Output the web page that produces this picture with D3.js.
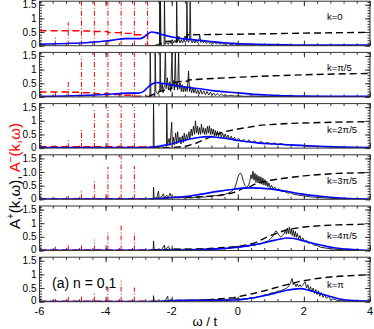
<!DOCTYPE html>
<html><head><meta charset="utf-8">
<script src="https://cdn.jsdelivr.net/npm/d3@7"></script>
<style>
body{margin:0;background:#fff}
svg{display:block;font-family:"Liberation Sans",Arial,sans-serif}
</style></head><body>
<svg id="chart" width="374" height="329"></svg>
<script>
// momentum labels, one per panel (top to bottom)
const kLabels = ["k=0", "k=\u03c0/5", "k=2\u03c0/5", "k=3\u03c0/5", "k=4\u03c0/5", "k=\u03c0"];
const yTickText = [
  ["0", "0.5", "1", "1.5"], ["0", "0.5", "1", "1.5"], ["0", "0.5", "1", "1.5"],
  ["0", "0.5", "1.0", "1.5"], ["0", "0.5", "1", "1.5"], ["0", "0.5", "1", "1.5"]
];
const yTickVals = [0, 0.5, 1, 1.5];
const xTickVals = [-6, -4, -2, 0, 2, 4];

// A^-(k,w): delta peaks (red)
const spikeOmega = [-5.52, -5.13, -4.73, -4.34, -3.93, -3.53, -3.13, -2.73];
const spikeHeight = [
  [0.32, 0.86, 1.7, 1.7, 1.7, 1.7, 1.7, 1.7],
  [0.22, 0.63, 1.48, 1.7, 1.7, 1.7, 1.7, 0],
  [0.1, 0.33, 0.68, 1.39, 1.5, 1.57, 1.5, 0],
  [0.05, 0.13, 0.37, 0.66, 1.19, 1.7, 1.22, 0],
  [0.14, 0.2, 0.23, 0.4, 0.7, 0.92, 0.65, 0],
  [0.1, 0.19, 0.21, 0.35, 0.56, 0.77, 0.52, 0]
];
// integrated A^- weight (red dashed)
const redWeight = [
  [[-6, 0.55], [-5.52, 0.55], [-5.13, 0.545], [-4.73, 0.54], [-4.34, 0.52], [-3.93, 0.48], [-3.53, 0.45], [-3.13, 0.4], [-2.73, 0], [-2.6, 0]],
  [[-6, 0.18], [-5.52, 0.18], [-5.13, 0.17], [-4.73, 0.15], [-4.34, 0.12], [-3.93, 0.09], [-3.53, 0.06], [-3.13, 0.03], [-2.73, 0], [-2.6, 0]],
  [[-6, 0.05], [-4.34, 0.05], [-3.53, 0.04], [-2.55, 0], [-2.5, 0]],
  [[-6, 0.02], [-2.55, 0.02], [-2.5, 0]],
  [[-6, 0.02], [-2.55, 0.02], [-2.5, 0]],
  [[-6, 0.02], [-2.55, 0.02], [-2.5, 0]]
];

// A^+(k,w) (black solid)
const aPlus = [
  [[-2.6,0],[-2.45,0.02],[-2.37,0],[-2.36,1.7],[-2.35,0.05],[-2.34,1.7],[-2.32,0],[-2.23,0],[-2.22,1.7],[-2.2,0.05],[-2.15,0.12],[-2.1,0.05],[-2.06,0.18],[-2.02,0.08],[-1.98,0.22],[-1.94,0.1],[-1.9,0.2],[-1.86,0.1],[-1.85,1.7],[-1.83,0.12],[-1.79,0.25],[-1.75,0.1],[-1.71,0.22],[-1.67,0.1],[-1.63,0.24],[-1.59,0.12],[-1.55,0.18],[-1.54,1.7],[-1.52,0.2],[-1.49,0.12],[-1.46,0.24],[-1.44,1.7],[-1.42,0.2],[-1.38,0.1],[-1.34,0.22],[-1.3,0.1],[-1.26,0.2],[-1.22,0.1],[-1.18,0.2],[-1.15,0.38],[-1.12,0.12],[-1.08,0.2],[-1.04,0.1],[-1.0,0.18],[-0.95,0.08],[-0.9,0.16],[-0.85,0.08],[-0.8,0.15],[-0.75,0.07],[-0.7,0.13],[-0.65,0.06],[-0.6,0.12],[-0.55,0.05],[-0.5,0.1],[-0.45,0.05],[-0.4,0.09],[-0.35,0.04],[-0.3,0.08],[-0.2,0.04],[-0.1,0.07],[0,0.03],[0.1,0.06],[0.2,0.03],[0.3,0.05],[0.4,0.02],[0.6,0.04],[0.8,0.02],[1.0,0.02],[1.5,0.01],[2,0.005],[4,0]],
  [[-2.7,0],[-2.66,0],[-2.65,1.7],[-2.63,0.05],[-2.55,0.1],[-2.51,0],[-2.5,1.7],[-2.48,0.2],[-2.42,0.1],[-2.36,0.3],[-2.35,1.7],[-2.33,0.2],[-2.29,0.5],[-2.26,0.15],[-2.22,0.45],[-2.19,1.7],[-2.17,0.3],[-2.13,0.7],[-2.1,0.25],[-2.06,0.55],[-2.03,0.2],[-1.99,1.7],[-1.97,0.4],[-1.94,0.6],[-1.92,0.25],[-1.89,1.7],[-1.87,0.35],[-1.84,0.55],[-1.82,0.25],[-1.79,1.7],[-1.77,0.3],[-1.74,0.5],[-1.71,0.2],[-1.68,0.45],[-1.65,0.18],[-1.62,0.4],[-1.59,0.2],[-1.56,0.38],[-1.53,0.2],[-1.49,0.95],[-1.46,0.2],[-1.43,0.38],[-1.4,0.15],[-1.36,0.32],[-1.33,0.14],[-1.29,0.3],[-1.25,0.12],[-1.21,0.26],[-1.17,0.1],[-1.12,0.25],[-1.08,0.1],[-1.03,0.22],[-0.98,0.08],[-0.93,0.2],[-0.88,0.07],[-0.83,0.17],[-0.78,0.06],[-0.73,0.14],[-0.68,0.05],[-0.62,0.12],[-0.56,0.05],[-0.5,0.1],[-0.44,0.04],[-0.38,0.08],[-0.3,0.03],[-0.22,0.06],[-0.1,0.03],[0,0.04],[0.2,0.02],[0.4,0.03],[1,0.01],[4,0]],
  [[-2.6,0],[-2.56,0],[-2.55,1.7],[-2.53,0],[-2.4,0.02],[-2.3,0.05],[-2.2,0.02],[-2.16,0.05],[-2.15,1.7],[-2.13,0.1],[-2.08,0.35],[-2.05,0.1],[-2.0,0.95],[-1.98,0.15],[-1.95,0.4],[-1.92,0.12],[-1.88,0.55],[-1.85,0.15],[-1.82,0.6],[-1.79,0.2],[-1.75,0.4],[-1.72,0.15],[-1.68,0.45],[-1.65,0.2],[-1.62,0.55],[-1.59,0.25],[-1.55,0.5],[-1.52,0.3],[-1.48,0.6],[-1.45,0.35],[-1.41,0.7],[-1.38,0.45],[-1.34,0.8],[-1.31,0.5],[-1.28,1.0],[-1.25,0.55],[-1.22,0.8],[-1.19,0.5],[-1.16,0.75],[-1.13,0.5],[-1.1,0.88],[-1.07,0.55],[-1.04,0.75],[-1.01,0.5],[-0.98,0.72],[-0.95,0.5],[-0.92,0.8],[-0.89,0.55],[-0.86,0.82],[-0.83,0.5],[-0.8,0.72],[-0.77,0.5],[-0.74,0.7],[-0.71,0.45],[-0.68,0.65],[-0.65,0.45],[-0.62,0.62],[-0.58,0.42],[-0.54,0.6],[-0.5,0.4],[-0.46,0.55],[-0.42,0.38],[-0.38,0.52],[-0.34,0.35],[-0.3,0.48],[-0.25,0.32],[-0.2,0.44],[-0.15,0.3],[-0.1,0.4],[-0.05,0.27],[0.02,0.36],[0.1,0.24],[0.18,0.32],[0.26,0.22],[0.34,0.3],[0.42,0.2],[0.5,0.27],[0.6,0.18],[0.7,0.24],[0.8,0.16],[0.9,0.21],[1.0,0.15],[1.1,0.19],[1.2,0.13],[1.3,0.17],[1.45,0.11],[1.6,0.13],[1.75,0.09],[1.9,0.1],[2.1,0.07],[2.3,0.07],[2.6,0.05],[3.0,0.03],[3.5,0.01],[4,0]],
  [[-2.6,0],[-2.56,0],[-2.55,0.45],[-2.53,0.02],[-2.45,0.05],[-2.4,0.3],[-2.38,0.05],[-2.3,0.1],[-2.25,0.2],[-2.22,0.05],[-2.15,0.15],[-2.1,0.06],[-2.05,0.22],[-2.0,0.05],[-1.9,0.1],[-1.8,0.05],[-1.7,0.08],[-1.6,0.04],[-1.5,0.07],[-1.4,0.05],[-1.3,0.08],[-1.2,0.06],[-1.1,0.09],[-1.0,0.08],[-0.9,0.11],[-0.8,0.1],[-0.7,0.14],[-0.6,0.13],[-0.5,0.17],[-0.4,0.18],[-0.3,0.22],[-0.2,0.27],[-0.1,0.4],[-0.04,0.6],[0.0,0.8],[0.04,0.92],[0.08,0.96],[0.12,0.88],[0.17,0.65],[0.22,0.5],[0.27,0.45],[0.32,0.5],[0.36,0.65],[0.4,0.9],[0.43,0.75],[0.46,1.03],[0.49,0.7],[0.52,0.95],[0.55,0.62],[0.58,0.9],[0.61,0.6],[0.64,0.85],[0.67,0.58],[0.7,0.82],[0.73,0.55],[0.76,0.78],[0.79,0.52],[0.82,0.72],[0.85,0.5],[0.88,0.66],[0.91,0.46],[0.94,0.6],[0.98,0.42],[1.02,0.52],[1.07,0.38],[1.12,0.45],[1.18,0.33],[1.25,0.38],[1.32,0.28],[1.4,0.3],[1.5,0.23],[1.6,0.24],[1.7,0.18],[1.85,0.15],[2.0,0.12],[2.2,0.09],[2.4,0.07],[2.8,0.04],[3.2,0.02],[4,0]],
  [[-2.6,0],[-2.56,0],[-2.55,0.35],[-2.53,0.02],[-2.3,0.04],[-2.22,0.2],[-2.2,0.03],[-2.1,0.15],[-2.05,0.04],[-1.9,0.06],[-1.7,0.04],[-1.5,0.05],[-1.3,0.04],[-1.1,0.06],[-0.9,0.05],[-0.7,0.07],[-0.5,0.06],[-0.3,0.09],[-0.1,0.12],[0,0.15],[0.1,0.12],[0.2,0.17],[0.3,0.15],[0.4,0.2],[0.5,0.18],[0.6,0.24],[0.7,0.24],[0.8,0.3],[0.9,0.34],[0.98,0.42],[1.05,0.5],[1.1,0.62],[1.15,0.72],[1.2,0.66],[1.25,0.55],[1.3,0.5],[1.35,0.55],[1.4,0.62],[1.44,0.75],[1.47,0.6],[1.5,0.82],[1.53,0.62],[1.56,0.86],[1.59,0.6],[1.62,0.8],[1.65,0.55],[1.68,0.75],[1.71,0.5],[1.74,0.7],[1.77,0.48],[1.8,0.63],[1.84,0.42],[1.88,0.55],[1.92,0.38],[1.97,0.46],[2.02,0.32],[2.08,0.38],[2.14,0.26],[2.2,0.3],[2.3,0.2],[2.4,0.18],[2.5,0.12],[2.7,0.08],[3.0,0.04],[3.5,0.01],[4,0]],
  [[-2.6,0],[-2.56,0],[-2.55,0.22],[-2.53,0.01],[-2.2,0.03],[-2.12,0.2],[-2.1,0.02],[-2.0,0.1],[-1.95,0.03],[-1.8,0.06],[-1.6,0.04],[-1.4,0.07],[-1.2,0.05],[-1.0,0.08],[-0.8,0.06],[-0.6,0.08],[-0.4,0.07],[-0.2,0.1],[0,0.12],[0.1,0.08],[0.2,0.12],[0.3,0.1],[0.4,0.15],[0.5,0.13],[0.6,0.18],[0.7,0.19],[0.8,0.25],[0.9,0.26],[1.0,0.32],[1.1,0.33],[1.2,0.38],[1.3,0.4],[1.4,0.45],[1.48,0.5],[1.55,0.58],[1.6,0.7],[1.64,0.85],[1.68,0.62],[1.72,0.68],[1.76,0.55],[1.8,0.65],[1.84,0.55],[1.88,0.62],[1.92,0.55],[1.96,0.6],[2.0,0.68],[2.04,0.72],[2.08,0.5],[2.12,0.62],[2.16,0.42],[2.2,0.55],[2.24,0.36],[2.28,0.5],[2.32,0.3],[2.36,0.45],[2.4,0.26],[2.44,0.4],[2.48,0.2],[2.53,0.33],[2.58,0.16],[2.63,0.27],[2.68,0.12],[2.74,0.2],[2.8,0.08],[2.9,0.1],[3.0,0.05],[3.2,0.03],[3.5,0.01],[4,0]]
];

// integrated A^+ weight (black dashed)
const plusWeight = [
  [[-2.5,0],[-2.35,0.05],[-2.22,0.15],[-1.85,0.18],[-1.84,0.31],[-1.54,0.32],[-1.53,0.4],[0,0.42],[2,0.46],[4,0.49]],
  [[-2.7,0],[-2.65,0.05],[-2.5,0.12],[-2.35,0.2],[-2.19,0.25],[-2.0,0.3],[-1.99,0.5],[-1.89,0.53],[-1.79,0.56],[-1.5,0.58],[-1.49,0.62],[-1,0.66],[0,0.72],[1,0.77],[2,0.81],[3,0.84],[4,0.86]],
  [[-2.6,0],[-2.0,0.02],[-1.6,0.06],[-1.3,0.16],[-1.0,0.32],[-0.7,0.48],[-0.4,0.6],[0,0.7],[0.7,0.84],[1.5,0.9],[2,0.92],[3,0.95],[4,0.97]],
  [[-2.6,0],[-2.55,0.03],[-2,0.06],[-1,0.1],[-0.5,0.15],[-0.2,0.22],[0,0.3],[0.15,0.4],[0.4,0.48],[0.6,0.6],[1.0,0.7],[1.4,0.77],[2,0.86],[2.5,0.91],[3,0.95],[4,0.98]],
  [[-2.6,0],[-2.55,0.02],[-2,0.04],[-1,0.06],[0,0.14],[0.5,0.27],[0.9,0.5],[1.2,0.64],[1.5,0.77],[2,0.86],[2.5,0.91],[3,0.94],[4,0.97]],
  [[-2.6,0],[-2,0.02],[-1.1,0.05],[-0.13,0.15],[0.4,0.28],[0.87,0.42],[1.4,0.6],[1.9,0.75],[2.4,0.85],[2.9,0.92],[3.5,0.96],[4,0.99]]
];

// smooth spectrum (blue)
const blueCurve = [
  [[-6,0.05],[-5.5,0.07],[-5,0.09],[-4.5,0.12],[-4,0.17],[-3.7,0.22],[-3.4,0.26],[-3.1,0.26],[-2.95,0.26],[-2.8,0.35],[-2.7,0.45],[-2.6,0.5],[-2.45,0.47],[-2.3,0.41],[-2.1,0.35],[-1.95,0.31],[-1.7,0.26],[-1.44,0.23],[-1.2,0.2],[-0.94,0.17],[-0.7,0.14],[-0.43,0.11],[-0.2,0.09],[0.07,0.07],[0.4,0.06],[0.7,0.05],[1,0.04],[1.5,0.03],[2,0.02],[3,0.02],[4,0.02]],
  [[-6,0.02],[-5,0.04],[-4.5,0.06],[-4,0.09],[-3.6,0.12],[-3.3,0.14],[-3.0,0.14],[-2.85,0.2],[-2.7,0.38],[-2.55,0.5],[-2.45,0.53],[-2.3,0.5],[-2.1,0.46],[-1.95,0.43],[-1.6,0.36],[-1.14,0.3],[-0.7,0.22],[-0.13,0.16],[0.4,0.1],[0.88,0.07],[1.5,0.04],[2,0.03],[3,0.02],[4,0.02]],
  [[-6,0.02],[-4,0.02],[-3,0.02],[-2.55,0.04],[-2.35,0.08],[-1.95,0.17],[-1.74,0.25],[-1.44,0.33],[-1.14,0.4],[-0.9,0.42],[-0.64,0.4],[-0.3,0.34],[0.07,0.27],[0.6,0.19],[1.1,0.15],[1.5,0.12],[1.9,0.1],[2.4,0.07],[2.9,0.05],[3.5,0.03],[4,0.02]],
  [[-6,0.01],[-3,0.01],[-2.5,0.02],[-2.15,0.05],[-1.6,0.1],[-1.14,0.18],[-0.6,0.29],[-0.13,0.37],[0.2,0.41],[0.45,0.42],[0.88,0.39],[1.38,0.31],[1.89,0.2],[2.5,0.11],[3.1,0.05],[3.6,0.02],[4,0.01]],
  [[-6,0.01],[-2,0.01],[-1.14,0.03],[-0.6,0.06],[-0.13,0.1],[0.3,0.17],[0.67,0.25],[1.1,0.37],[1.48,0.46],[1.7,0.44],[2.08,0.32],[2.5,0.2],[2.9,0.1],[3.3,0.05],[3.7,0.02],[4,0.01]],
  [[-6,0.01],[-2.3,0.01],[-2.0,0.04],[-1.6,0.05],[-1.0,0.05],[-0.5,0.05],[-0.13,0.06],[0.3,0.11],[0.67,0.19],[1.1,0.3],[1.48,0.42],[1.89,0.48],[2.2,0.4],[2.49,0.3],[2.8,0.19],[3.09,0.1],[3.5,0.04],[4,0.02]]
];

const svg = d3.select("#chart");
const left = 39.5, right = 370;
const panelGap = 51.2, firstZero = 45.7, unit = 27.3;
const yMax = 1.63;

const x = d3.scaleLinear().domain([-6, 4]).range([left, right]);
const xMinor = d3.range(-6, 4.001, 0.4);
const yMinor = d3.range(0, 1.61, 0.1);

const labelDy = [20, 71, 132.5, 183.5, 239, 288];

kLabels.forEach((label, i) => {
  const zeroY = firstZero + panelGap * i;
  const y = d3.scaleLinear().domain([0, yMax]).range([zeroY, zeroY - yMax * unit]);
  const top = y(yMax);

  const g = svg.append("g");
  const clipId = "clip" + i;
  g.append("clipPath").attr("id", clipId)
    .append("rect").attr("x", left).attr("y", top).attr("width", right - left).attr("height", zeroY - top);

  const plot = g.append("g").attr("clip-path", `url(#${clipId})`);
  const line = d3.line().x((d) => x(d[0])).y((d) => y(d[1]));

  // red delta peaks
  spikeOmega.forEach((w, j) => {
    if (spikeHeight[i][j] <= 0) return;
    plot.append("line")
      .attr("x1", x(w)).attr("x2", x(w))
      .attr("y1", y(0)).attr("y2", y(spikeHeight[i][j]))
      .attr("stroke", "#ff0000").attr("stroke-width", 1)
      .attr("stroke-dasharray", "5,2,1,2");
  });

  plot.append("path").datum(redWeight[i])
    .attr("d", d3.line().x((d) => x(d[0])).y((d) => y(d[1])).curve(d3.curveStepAfter))
    .attr("fill", "none").attr("stroke", "#ff0000").attr("stroke-width", 1.4)
    .attr("stroke-dasharray", "7,4");

  plot.append("path").datum(aPlus[i])
    .attr("d", line).attr("fill", "none").attr("stroke", "#111").attr("stroke-width", 0.9);

  plot.append("path").datum(plusWeight[i])
    .attr("d", line).attr("fill", "none").attr("stroke", "#000").attr("stroke-width", 1.4)
    .attr("stroke-dasharray", "7,4");

  plot.append("path").datum(blueCurve[i])
    .attr("d", line.curve(d3.curveMonotoneX)).attr("fill", "none")
    .attr("stroke", "#0000ff").attr("stroke-width", 1.6);

  // ticks on all four sides, pointing inward
  const axes = [
    [d3.axisBottom(x).tickValues(xTickVals).tickSize(-5), `translate(0,${zeroY})`],
    [d3.axisBottom(x).tickValues(xMinor).tickSize(-2.5), `translate(0,${zeroY})`],
    [d3.axisTop(x).tickValues(xTickVals).tickSize(-5), `translate(0,${top})`],
    [d3.axisTop(x).tickValues(xMinor).tickSize(-2.5), `translate(0,${top})`],
    [d3.axisLeft(y).tickValues(yTickVals).tickSize(-5), `translate(${left},0)`],
    [d3.axisLeft(y).tickValues(yMinor).tickSize(-2.5), `translate(${left},0)`],
    [d3.axisRight(y).tickValues(yTickVals).tickSize(-5), `translate(${right},0)`],
    [d3.axisRight(y).tickValues(yMinor).tickSize(-2.5), `translate(${right},0)`]
  ];
  axes.forEach(([ax, tr]) => {
    const a = g.append("g").attr("transform", tr).call(ax.tickFormat(""));
    a.select(".domain").remove();
    a.selectAll("line").attr("stroke", "#333");
  });

  g.append("rect").attr("x", left).attr("y", top)
    .attr("width", right - left).attr("height", zeroY - top)
    .attr("fill", "none").attr("stroke", "#333").attr("stroke-width", 1);

  yTickVals.forEach((v, j) => {
    g.append("text").attr("x", left - 3).attr("y", y(v) + (v === 0 ? 2.5 : 3.5))
      .attr("text-anchor", "end").attr("font-size", 10).attr("fill", "#000")
      .text(yTickText[i][j]);
  });

  g.append("text").attr("x", 327).attr("y", labelDy[i])
    .attr("font-size", 9.5).attr("fill", "#000").text(label);

  if (i === kLabels.length - 1) {
    xTickVals.forEach((v) => {
      g.append("text").attr("x", x(v)).attr("y", zeroY + 13)
        .attr("text-anchor", "middle").attr("font-size", 11).text(v);
    });
    g.append("text").attr("x", 52).attr("y", 288)
      .attr("font-size", 14).text("(a) n = 0,1");
  }
});

svg.append("text").attr("x", (left + right) / 2).attr("y", 326)
  .attr("text-anchor", "middle").attr("font-size", 13).text("\u03c9 / t");

const yTitle = svg.append("text")
  .attr("transform", "translate(20,176) rotate(-90)")
  .attr("text-anchor", "middle").attr("font-size", 15);
yTitle.append("tspan").text("A");
yTitle.append("tspan").attr("font-size", 10).attr("dy", -6).text("+");
yTitle.append("tspan").attr("dy", 6).text("(k,\u03c9), ");
yTitle.append("tspan").attr("fill", "#ff0000").text("A");
yTitle.append("tspan").attr("fill", "#ff0000").attr("font-size", 10).attr("dy", -6).text("\u2212");
yTitle.append("tspan").attr("fill", "#ff0000").attr("dy", 6).text("(k,\u03c9)");
</script>
</body></html>
